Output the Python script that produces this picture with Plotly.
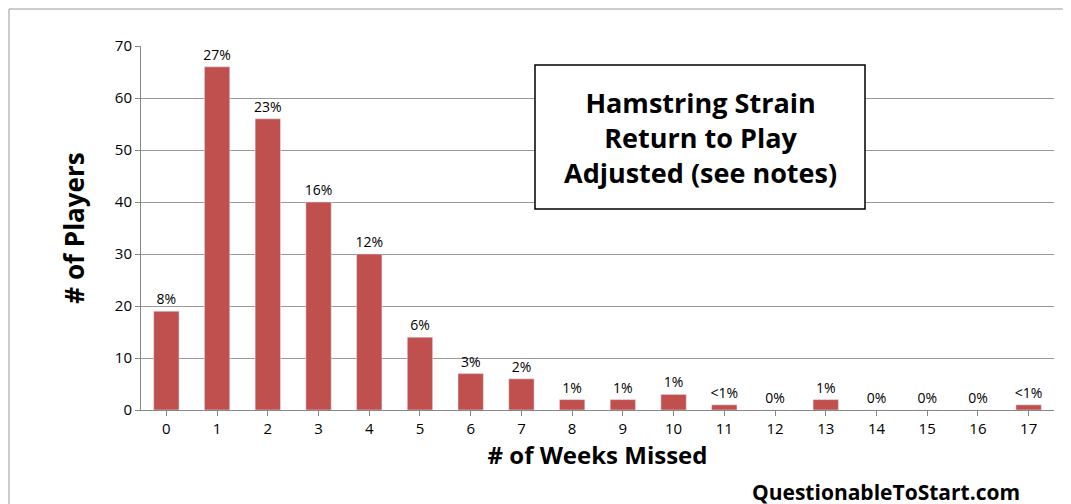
import plotly.graph_objects as go

weeks = ["0","1","2","3","4","5","6","7","8","9","10","11","12","13","14","15","16","17"]
players = [19,66,56,40,30,14,7,6,2,2,3,1,0,2,0,0,0,1]
pct_labels = ["8%","27%","23%","16%","12%","6%","3%","2%","1%","1%","1%","<1%","0%","1%","0%","0%","0%","<1%"]

W, H = 1071, 504
L, R, T, B = 133, 25, 38, 102
pw, ph = W - L - R, H - T - B
def px(x): return (x - L) / pw
def py(y): return (H - B - y) / ph

fig = go.Figure(go.Bar(x=weeks, y=players, text=pct_labels, textposition="outside",
                       marker_color="#c0504d", width=0.5, cliponaxis=False,
                       constraintext="none",
                       textfont=dict(size=14, color="black")))
fig.update_layout(
    width=W, height=H, autosize=False, margin=dict(l=L, r=R, t=T, b=B, autoexpand=False),
    plot_bgcolor="white", paper_bgcolor="white",
    font=dict(family="Open Sans", color="black"), showlegend=False,
    xaxis=dict(type="category", automargin=False, showline=True, linecolor="#888", ticks="outside",
               tickcolor="#888", tickfont=dict(size=15),
               title=dict(text="<b># of Weeks Missed</b>", font=dict(size=24), standoff=10)),
    yaxis=dict(range=[0, 70], dtick=10, automargin=False, showgrid=True, gridcolor="#999", showline=True,
               linecolor="#888", ticks="outside", tickcolor="#888", tickfont=dict(size=15),
               title=dict(text="<b># of Players</b>", font=dict(size=26), standoff=22)),
    shapes=[
        dict(type="rect", xref="paper", yref="paper", x0=px(1), x1=px(1069), y0=py(502), y1=py(1),
             line=dict(color="#999", width=1)),
        dict(type="rect", xref="paper", yref="paper", x0=px(527), x1=px(857), y0=py(201), y1=py(57),
             line=dict(color="black", width=1.5), fillcolor="white"),
    ],
    annotations=[
        dict(xref="paper", yref="paper", x=px(692), y=py(129), xanchor="center", yanchor="middle",
             showarrow=False,
             text="<b>Hamstring Strain<br>Return to Play<br>Adjusted (see notes)</b>",
             font=dict(size=27), align="center"),
        dict(xref="paper", yref="paper", x=px(1014), y=py(484), xanchor="right", yanchor="middle",
             showarrow=False, text="<b>QuestionableToStart.com</b>", font=dict(size=21)),
    ],
)
fig.write_html("out.html")
